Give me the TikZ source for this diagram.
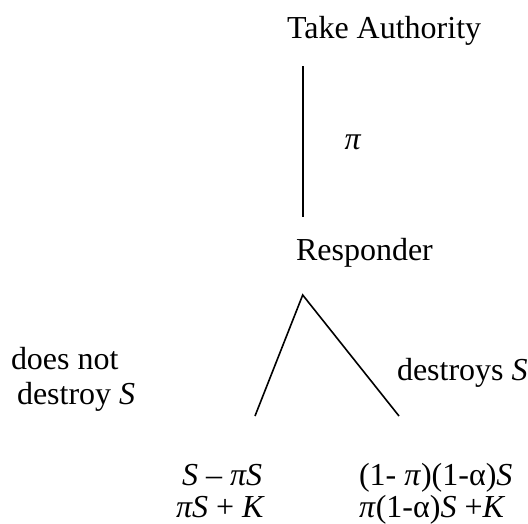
\documentclass[tikz,border=0pt]{standalone}
\usepackage{fontspec}
\setmainfont{Liberation Serif}
\begin{document}
\begin{tikzpicture}[x=1pt,y=1pt,
  lbl/.style={inner sep=0pt,outer sep=0pt,anchor=base west,font=\fontsize{32}{36}\selectfont},
  branch/.style={line width=1.6pt}]
\useasboundingbox (0,0) rectangle (528,-523);

% decision nodes
\node[lbl] (take) at (287,-38) {Take Authority};
\node[lbl] (resp) at (296,-260) {Responder};

% move of nature: authority taken with probability pi
\coordinate (chanceTop) at (302.7,-66);
\coordinate (chanceBot) at (302.7,-217);
\draw[branch] (chanceTop) -- (chanceBot);
\node[lbl,anchor=center] (pi) at (353,-142) {\textit{π}};

% responder's choice
\coordinate (apex) at (302.7,-295);
\coordinate (leftEnd) at (255,-416);
\coordinate (rightEnd) at (399,-416);
\draw[branch] (leftEnd) -- (apex) -- (rightEnd);

\node[lbl] (keep1) at (11,-369) {does not};
\node[lbl] (keep2) at (17,-404) {destroy \textit{S}};
\node[lbl] (dest) at (397,-380) {destroys \textit{S}};

% payoffs
\node[lbl] (payL1) at (182,-485) {\textit{S} – \textit{πS}};
\node[lbl] (payL2) at (176,-517) {\textit{πS} + \textit{K}};
\node[lbl] (payR1) at (359,-485) {(1- \textit{π})(1-α)\textit{S}};
\node[lbl] (payR2) at (359,-517) {\textit{π}(1-α)\textit{S} +\textit{K}};
\end{tikzpicture}
\end{document}
